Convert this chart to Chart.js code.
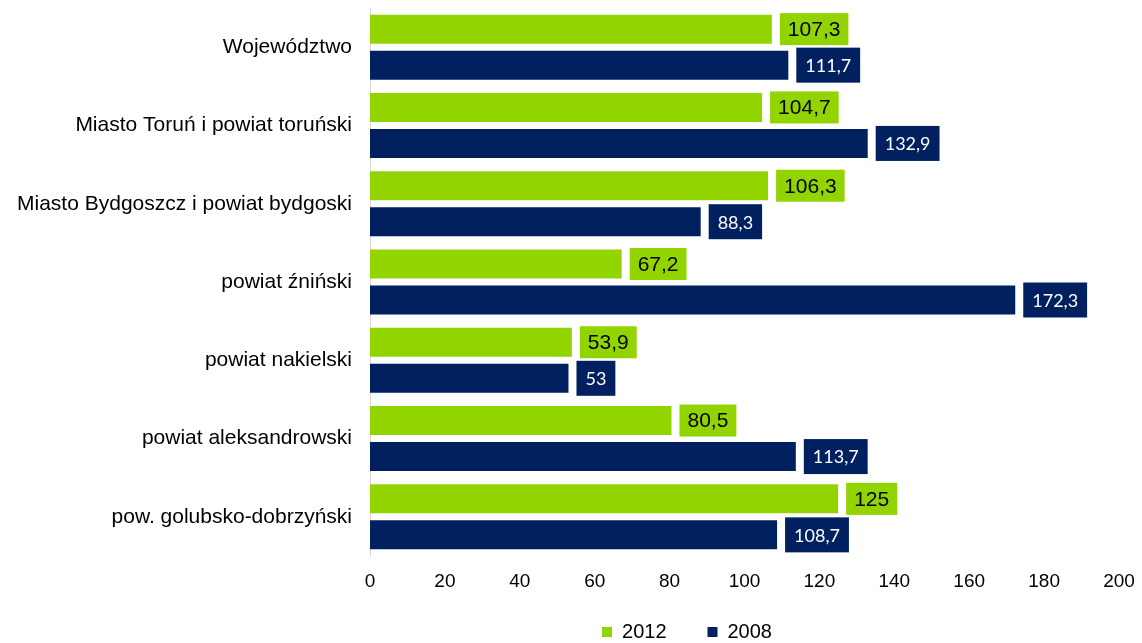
<!DOCTYPE html>
<html>
<head>
<meta charset="utf-8">
<script src="https://cdn.jsdelivr.net/npm/chart.js@4.4.1/dist/chart.umd.min.js"></script>
<style>
  html, body { margin: 0; padding: 0; background: #fff; }
  #wrap { width: 1142px; height: 643px; }
</style>
</head>
<body>
<div id="wrap"><canvas id="barPow" width="1142" height="643"></canvas></div>
<script>
// dane
const kategorie = [
    'Województwo',
    'Miasto Toruń i powiat toruński',
    'Miasto Bydgoszcz i powiat bydgoski',
    'powiat źniński',
    'powiat nakielski',
    'powiat aleksandrowski',
    'pow. golubsko-dobrzyński'
];
const wartosci2012 = [107.3, 104.7, 106.3, 67.2, 53.9, 80.5, 125];
const wartosci2008 = [111.7, 132.9, 88.3, 172.3, 53, 113.7, 108.7];
const ticksX = [0, 20, 40, 60, 80, 100, 120, 140, 160, 180, 200];

const zielony = '#92d400';
const granat = '#002060';

// etykiety wartosci w kolorowych ramkach
const etykiety = {
    id: 'etykiety',
    afterLayout(chart) {
        // legenda przesunieta w prawo jak w oryginale
        chart.legend.left += 116;
        chart.legend.right += 116;
        // zeby opisy osi X nie byly przyciete
        chart.scales.x.bottom += 14;
    },
    afterDatasetsDraw(chart) {
        const ctx = chart.ctx;
        chart.data.datasets.forEach((ds, i) => {
            const meta = chart.getDatasetMeta(i);
            const st = ds.etykieta;
            meta.data.forEach((bar, j) => {
                const txt = String(ds.data[j]).replace('.', ',');
                ctx.save();
                ctx.font = st.font;
                const w = ctx.measureText(txt).width + st.pad * 2;
                const x = bar.x + 8;
                const y = bar.y - st.h / 2;
                ctx.fillStyle = st.bg;
                ctx.fillRect(x, y, w, st.h);
                ctx.fillStyle = st.color;
                ctx.textAlign = 'left';
                ctx.textBaseline = 'middle';
                ctx.fillText(txt, x + st.pad, bar.y + 1);
                ctx.restore();
            });
        });
    }
};

const dadosPow = {
    labels: kategorie,
    datasets: [{
        label: '2012',
        data: wartosci2012,
        backgroundColor: zielony,
        borderWidth: 0,
        categoryPercentage: 0.92,
        barPercentage: 0.805,
        etykieta: { font: '21px "Liberation Sans", Arial, sans-serif', bg: zielony, color: '#000', h: 32, pad: 8 }
    }, {
        label: '2008',
        data: wartosci2008,
        backgroundColor: granat,
        borderWidth: 0,
        categoryPercentage: 0.92,
        barPercentage: 0.805,
        etykieta: { font: '18px Lato, "Open Sans", sans-serif', bg: granat, color: '#fff', h: 35, pad: 9 }
    }]
};

const configPow = {
    type: 'bar',
    data: dadosPow,
    plugins: [etykiety],
    options: {
        indexAxis: 'y',
        responsive: false,
        animation: false,
        layout: {
            padding: { top: 8, right: 0, bottom: -9, left: 0 }
        },
        scales: {
            x: {
                min: 0,
                max: 200,
                afterBuildTicks(scale) {
                    scale.ticks = ticksX.map(v => ({ value: v }));
                },
                afterFit(scale) {
                    scale.height = 25;
                    scale.paddingLeft = 0;
                    scale.paddingRight = 23;
                },
                grid: { display: false, drawTicks: false },
                border: { display: false },
                ticks: {
                    padding: 14,
                    color: '#000',
                    font: { size: 19, family: "'Liberation Sans', Arial, sans-serif" }
                }
            },
            y: {
                afterFit(scale) {
                    scale.width = 370;
                    scale.paddingTop = 0;
                    scale.paddingBottom = 0;
                },
                grid: { display: false, drawTicks: false },
                border: { display: true, color: '#d9d9d9', width: 1 },
                ticks: {
                    padding: 18,
                    color: '#000',
                    font: { size: 21, family: "'Liberation Sans', Arial, sans-serif" }
                }
            }
        },
        plugins: {
            title: { display: false },
            tooltip: { enabled: false },
            legend: {
                display: true,
                position: 'bottom',
                labels: {
                    boxWidth: 10,
                    boxHeight: 10,
                    padding: 41,
                    color: '#000',
                    font: { size: 20, family: "'Liberation Sans', Arial, sans-serif" }
                }
            }
        }
    }
};

new Chart(document.getElementById('barPow').getContext('2d'), configPow);
</script>
</body>
</html>
